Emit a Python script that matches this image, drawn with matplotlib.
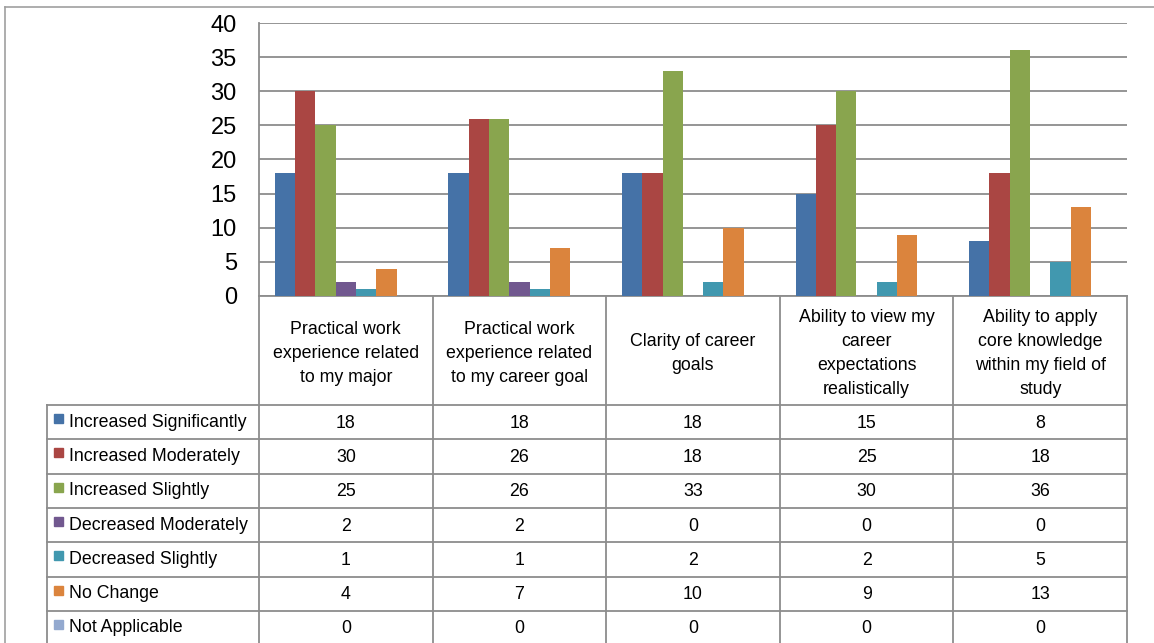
import numpy as np
import matplotlib
matplotlib.use('Agg')
import matplotlib.pyplot as plt
from matplotlib.patches import Rectangle

categories = ['Practical work\nexperience related\nto my major',
              'Practical work\nexperience related\nto my career goal',
              'Clarity of career\ngoals',
              'Ability to view my\ncareer\nexpectations\nrealistically',
              'Ability to apply\ncore knowledge\nwithin my field of\nstudy']
series = ['Increased Significantly', 'Increased Moderately', 'Increased Slightly',
          'Decreased Moderately', 'Decreased Slightly', 'No Change', 'Not Applicable']
inc_sig = [18, 18, 18, 15, 8]
inc_mod = [30, 26, 18, 25, 18]
inc_sli = [25, 26, 33, 30, 36]
dec_mod = [2, 2, 0, 0, 0]
dec_sli = [1, 1, 2, 2, 5]
no_change = [4, 7, 10, 9, 13]
not_app = [0, 0, 0, 0, 0]
values = [inc_sig, inc_mod, inc_sli, dec_mod, dec_sli, no_change, not_app]
colors = ['#4572A7', '#AA4643', '#89A54E', '#71588F', '#4198AF', '#DB843D', '#93A9CF']
yticks = [0, 5, 10, 15, 20, 25, 30, 35, 40]

plt.rcParams['font.family'] = ['Liberation Sans', 'DejaVu Sans']
W, H = 1154, 643
# layout in pixels
pl, pr, pt, pb = 259, 1127, 23, 296
leg_left = 47
head_bot = 405
row_h = 34.3
line_c = '#8c8c8c'

fig = plt.figure(figsize=(W / 100, H / 100), dpi=100)

# overlay for frame + table
ov = fig.add_axes([0, 0, 1, 1])
ov.set_xlim(0, W)
ov.set_ylim(H, 0)
ov.axis('off')
ov.plot([5, W], [7, 7], color='#a0a0a0', lw=1.2)
ov.plot([5, 5], [7, H], color='#a0a0a0', lw=1.2)

ax = fig.add_axes([pl / W, (H - pb) / H, (pr - pl) / W, (pb - pt) / H])
n = len(series)
w = 0.117
x = np.arange(len(categories))
for i, (s, v, c) in enumerate(zip(series, values, colors)):
    ax.bar(x + (i - (n - 1) / 2) * w, v, width=w, color=c, label=s, zorder=3)
ax.set_xlim(-0.5, len(categories) - 0.5)
ax.set_ylim(0, 40)
ax.set_yticks(yticks)
ax.set_xticks([])
ax.tick_params(axis='y', length=0, pad=16, labelsize=17)
ax.yaxis.grid(True, color=line_c, lw=1.3)
ax.set_axisbelow(True)
for sp in ['top', 'right']:
    ax.spines[sp].set_visible(False)
for sp in ['left', 'bottom']:
    ax.spines[sp].set_color(line_c)
    ax.spines[sp].set_linewidth(1.3)

# data table
xs = np.linspace(pl, pr, len(categories) + 1)
rows = [head_bot + k * row_h for k in range(len(series) + 1)]
for xv in xs:
    ov.plot([xv, xv], [pb, H + 5], color=line_c, lw=1.3)
ov.plot([leg_left, leg_left], [head_bot, H + 5], color=line_c, lw=1.3)
for yv in rows:
    ov.plot([leg_left, pr], [yv, yv], color=line_c, lw=1.3)

fs = 12.8
for j, cat in enumerate(categories):
    ov.text((xs[j] + xs[j + 1]) / 2, (pb + head_bot) / 2 + 3, cat, ha='center', va='center',
            fontsize=fs, linespacing=1.55)
for i, (s, v, c) in enumerate(zip(series, values, colors)):
    yc = rows[i] + row_h / 2
    ov.add_patch(Rectangle((54, yc - 8), 9, 9, color=c))
    ov.text(69, yc, s, ha='left', va='center', fontsize=fs)
    for j, val in enumerate(v):
        ov.text((xs[j] + xs[j + 1]) / 2, yc + 1, str(val), ha='center', va='center', fontsize=fs)

fig.savefig('out.png', dpi=100)
